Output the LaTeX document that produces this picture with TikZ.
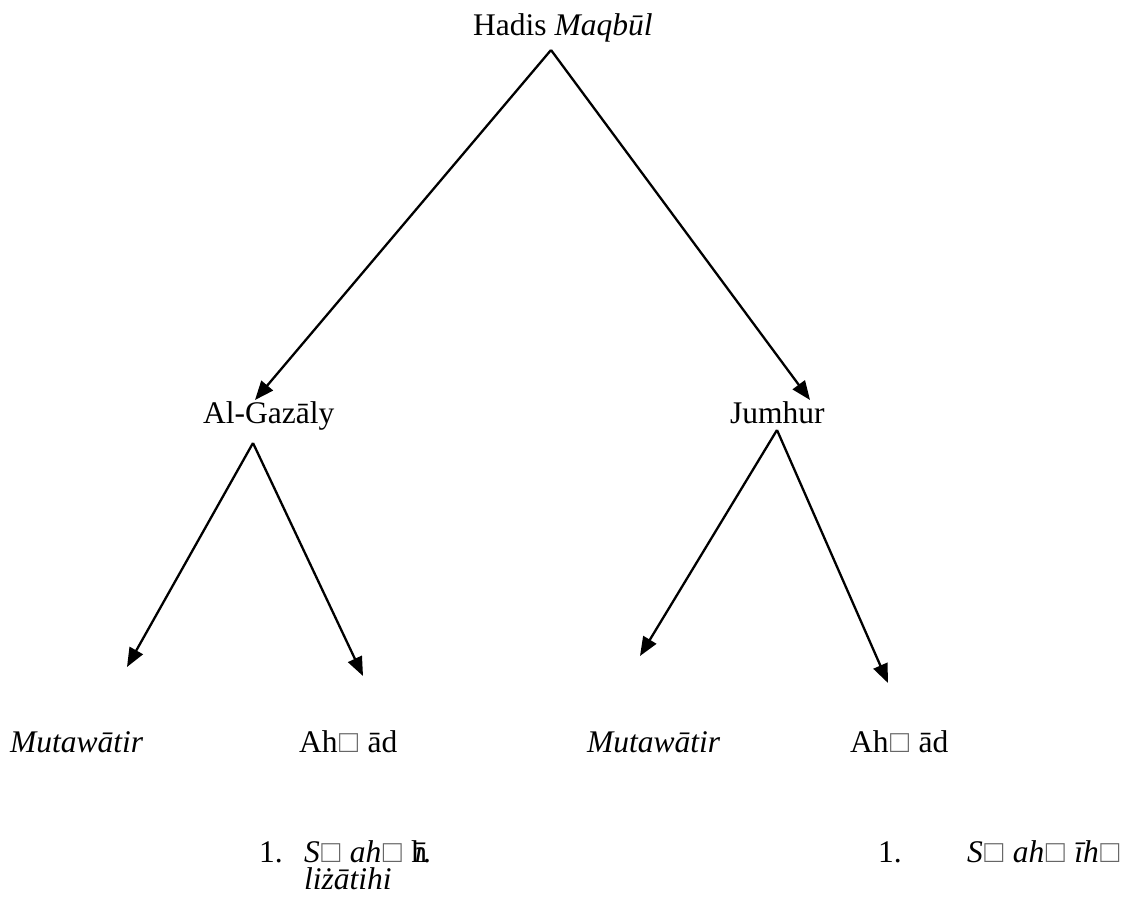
\documentclass[tikz,border=0pt]{standalone}
\usepackage{fontspec}
\setmainfont{Liberation Serif}
\usetikzlibrary{arrows.meta}
\newcommand{\bx}{{\kern1.5pt\color{black!60}□\kern1.5pt}}
\begin{document}
\begin{tikzpicture}[x=1pt,y=-1pt,
  lbl/.style={anchor=base west,inner sep=0pt,font=\fontsize{31.5}{36}\selectfont},
  arr/.style={line width=2.3pt,-{Triangle[length=19pt,width=15pt]}}]
\useasboundingbox (0,0) rectangle (1135,905);
% texts
\node[lbl] (root) at (473,35) {Hadis \textit{Maqbūl}};
\node[lbl] (gaz) at (203,423) {Al-Gazāly};
\node[lbl] (jum) at (730,423) {Jumhur};
\node[lbl] (mut1) at (10,752) {\textit{Mutawātir}};
\node[lbl] (ahd1) at (299,752) {Ah\bx{} ād};
\node[lbl] (mut2) at (587,752) {\textit{Mutawātir}};
\node[lbl] (ahd2) at (850,752) {Ah\bx{} ād};
\node[lbl] (n1) at (259,862) {1.};
\node[lbl,align=left,font=\fontsize{31.5}{27}\selectfont] (s1) at (304,889)
  {\textit{S\bx{} ah\bx{} }h\kern-0.4em\textit{ī}.\\\textit{liżātihi}};
\node[lbl] (n2) at (878,862) {1.};
\node[lbl] (s2) at (967,862) {\textit{S\bx{} ah\bx{} īh\bx}};
% junction points
\coordinate (ra) at (551,50);
\coordinate (ga) at (253,443);
\coordinate (ja) at (777,430);
\coordinate (tg) at (255,400);
\coordinate (tj) at (810,400);
\coordinate (tm1) at (127,667);
\coordinate (ta1) at (363,676);
\coordinate (tm2) at (640,656);
\coordinate (ta2) at (888,683);
% connectors
\draw[arr] (ra) -- (tg);
\draw[arr] (ra) -- (tj);
\draw[arr] (ga) -- (tm1);
\draw[arr] (ga) -- (ta1);
\draw[arr] (ja) -- (tm2);
\draw[arr] (ja) -- (ta2);
\end{tikzpicture}
\end{document}
